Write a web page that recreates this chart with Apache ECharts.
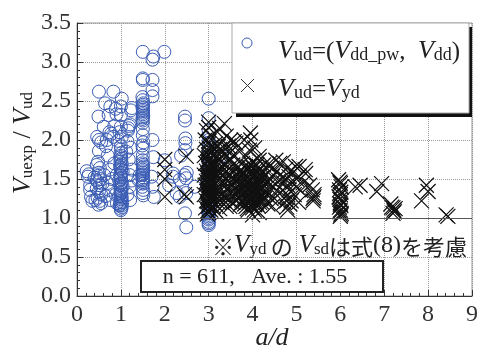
<!DOCTYPE html>
<html>
<head>
<meta charset="utf-8">
<script src="https://cdn.jsdelivr.net/npm/echarts@6/dist/echarts.min.js"></script>
<style>html,body{margin:0;padding:0;background:#fff}#c{width:481px;height:356px}</style>
</head>
<body>
<div id="c"></div>
<script>
// Tick values
var xTicks = [0,1,2,3,4,5,6,7,8,9];
var yTicks = [0.0,0.5,1.0,1.5,2.0,2.5,3.0,3.5];

// V_ud = (V_dd_pw, V_dd)  : blue circles  [a/d, Vuexp/Vud]
var circlesLow = [
 [0.22,1.60],[0.25,1.53],[0.27,1.56],[0.30,1.36],[0.32,1.27],[0.35,1.22],[0.30,1.42],
 [0.50,2.62],[0.49,2.30],[0.46,2.04],[0.50,2.00],[0.55,1.97],[0.50,1.86],[0.48,1.72],[0.45,1.68],
 [0.52,1.64],[0.50,1.58],[0.47,1.54],[0.53,1.50],[0.48,1.46],[0.52,1.42],[0.45,1.38],[0.50,1.34],
 [0.55,1.30],[0.47,1.26],[0.52,1.22],[0.42,1.23],[0.49,1.17],[0.55,1.19],[0.45,1.48],[0.58,1.44],[0.40,1.52],
 [0.64,2.47],[0.72,2.32],[0.76,2.43],[0.83,2.62],[0.61,2.17],[0.74,2.10],[0.68,2.00],[0.83,2.04],
 [0.93,1.99],[0.88,2.40],[0.90,2.33],[0.85,2.18],[0.70,1.80],[0.75,1.62],[0.70,1.45],[0.73,1.36],
 [0.76,1.23],[0.65,1.28],[0.80,1.50],[0.91,1.19],[0.88,1.30],[0.85,1.70],[0.90,1.55],[0.62,1.55],[0.66,1.92],[0.78,2.08]
];
var circlesOne = [
 [1.00,1.10],[1.02,1.14],[0.98,1.18],[1.00,1.22],[1.02,1.26],[0.99,1.30],[1.01,1.34],[1.00,1.38],
 [0.98,1.42],[1.02,1.46],[1.00,1.50],[0.99,1.54],[1.01,1.58],[1.00,1.62],[0.98,1.66],[1.02,1.70],
 [1.00,1.74],[0.99,1.78],[1.01,1.83],[1.00,1.88],[1.00,1.92],[1.02,2.04],[0.97,2.10],[1.00,2.17],
 [1.00,2.32],[1.00,2.43],[1.02,2.53],[0.96,1.48],[1.04,1.40],[0.96,1.28],[1.04,1.60],[0.97,1.16],[1.03,1.20],
 [1.00,1.12],[1.01,1.16],[0.99,1.20],[1.00,1.24],[1.01,1.28],[1.00,1.32],[0.99,1.36],[1.01,1.44],
 [1.00,1.52],[0.99,1.56],[1.01,1.64],[1.00,1.68],[0.99,1.72],[1.01,1.76],[1.00,1.80],
 [1.17,2.15],[1.19,2.18],[1.16,2.12],[1.21,2.20],[1.25,2.41],[1.23,2.38],[1.21,1.23],[1.20,1.40],
 [1.20,1.55],[1.22,1.90],[1.18,1.75],[1.15,1.98],[1.25,1.62],[1.15,1.30],[1.24,1.48],[1.12,1.85]
];
var circlesMid = [
 [1.50,3.13],[1.50,2.79],[1.50,2.77],[1.49,2.55],[1.50,2.51],[1.51,2.47],[1.49,2.43],[1.50,2.39],
 [1.50,2.35],[1.51,2.31],[1.49,2.27],[1.50,2.22],[1.50,2.14],[1.50,2.06],[1.51,1.97],[1.49,1.93],
 [1.50,1.89],[1.50,1.80],[1.50,1.74],[1.49,1.70],[1.51,1.66],[1.50,1.62],[1.50,1.58],[1.49,1.55],
 [1.51,1.52],[1.50,1.48],[1.50,1.44],[1.49,1.40],[1.51,1.36],[1.50,1.32],[1.40,1.49],[1.43,1.55],[1.51,1.29],
 [1.50,2.45],[1.50,2.41],[1.50,2.37],[1.50,2.33],[1.50,2.29],[1.50,2.25],[1.50,1.68],[1.50,1.64],
 [1.50,1.60],[1.50,1.56],[1.50,1.50],[1.50,1.46],
 [1.72,3.03],[1.74,3.07],[1.72,2.77],[1.72,2.64],[1.72,2.56],[1.72,2.00],[1.74,1.78],[1.70,1.53],
 [1.72,1.40],[1.75,1.27],[1.99,3.13],
 [2.00,1.74],[2.19,1.57],[2.19,1.53],[2.34,1.49],[2.27,1.32],[2.34,1.27],[2.37,1.80],[2.46,2.30],
 [2.46,2.25],[2.47,2.02],[2.47,1.96],[2.46,1.87],[2.49,1.51],[2.45,1.55],[2.49,1.32],[2.46,1.06],
 [2.49,0.88],[2.68,1.40],[2.10,1.42],[2.50,1.58]
];
var circlesThree = [
 [3.00,2.53],[3.00,2.28],[3.00,2.12],[3.00,2.00],[3.00,1.96],[3.00,1.90],[3.00,1.85],[3.00,1.80],
 [3.00,1.75],[3.00,1.70],[3.00,1.65],[3.00,1.60],[3.00,1.55],[3.00,1.50],[3.00,1.45],[3.00,1.40],
 [3.00,1.35],[3.00,1.30],[3.00,1.25],[3.00,1.20],[3.00,1.15],[3.00,1.10],[3.00,1.06],[3.00,1.02],
 [3.00,0.98],[3.00,0.95],[3.00,0.91],[2.98,1.62],[3.02,1.38],[3.30,1.80],
 [3.00,1.08],[3.00,1.04],[3.00,1.00],[3.00,0.93],[3.00,1.12],[3.00,1.18]
];

// V_ud = V_yd : black crosses
var crossesA = [
 [2.00,1.75],[2.00,1.62],[2.00,1.50],[2.00,1.27],[2.49,1.79],[2.49,1.27],[2.45,1.30],
 [3.00,2.23],[2.95,2.12],[3.05,2.05],[2.92,2.00],[3.00,1.95],[3.08,1.92],[2.95,1.88],[3.02,1.84],
 [2.90,1.80],[3.05,1.78],[3.00,1.74],[2.93,1.70],[3.07,1.68],[3.00,1.64],[2.95,1.60],[3.04,1.58],
 [2.90,1.55],[3.00,1.52],[3.06,1.50],[2.95,1.47],[3.02,1.44],[2.92,1.42],[3.08,1.40],[3.00,1.37],
 [2.96,1.34],[3.04,1.32],[2.90,1.30],[3.00,1.27],[3.06,1.24],[2.95,1.22],[3.02,1.19],[3.00,1.16],
 [2.93,1.13],[3.05,1.10],[3.00,1.07],[2.97,1.05],[3.00,2.16],
 [2.98,1.09],[3.02,1.12],[2.99,1.15],[3.01,1.18],[2.98,1.21],[3.02,1.24],[3.00,1.29],[2.98,1.31],
 [3.02,1.35],[2.99,1.39],[3.01,1.42],[2.98,1.45],[3.02,1.49],[3.00,1.54],[2.98,1.57],[3.02,1.61],
 [2.99,1.66],[3.01,1.69],[2.98,1.72],[3.02,1.76],[3.00,1.81],[2.98,1.86],[3.02,1.89],[3.00,1.98],
 [3.03,1.47],[2.97,1.36],[3.03,1.26],[2.97,1.52]
];
var crossesB = [
 [3.36,2.21],[3.20,2.10],[3.40,2.05],[3.28,1.98],[3.15,1.95],[3.45,1.92],[3.25,1.88],[3.15,1.82],
 [3.35,1.80],[3.50,1.85],[3.22,1.75],[3.42,1.72],[3.15,1.70],[3.30,1.66],[3.55,1.68],[3.20,1.62],
 [3.40,1.60],[3.15,1.56],[3.30,1.54],[3.50,1.55],[3.25,1.50],[3.45,1.48],[3.15,1.45],[3.35,1.43],
 [3.55,1.42],[3.20,1.40],[3.40,1.37],[3.25,1.34],[3.15,1.32],[3.50,1.32],[3.35,1.28],[3.20,1.26],
 [3.45,1.24],[3.30,1.20],[3.15,1.18],[3.40,1.15],[3.25,1.12],[3.55,1.20],[3.10,1.60],[3.12,1.25],
 [3.35,1.90],[3.58,1.98],
 [3.12,1.50],[3.18,1.35],[3.22,1.55],[3.28,1.44],[3.32,1.60],[3.38,1.50],[3.42,1.30],[3.48,1.40],
 [3.52,1.62],[3.58,1.50],[3.18,1.78],[3.28,1.72],[3.38,1.68],[3.48,1.75],[3.12,1.88],[3.22,1.92],
 [3.32,1.85],[3.42,1.80],[3.55,1.80],[3.10,1.15],[3.22,1.20],[3.35,1.22],[3.48,1.15],[3.18,1.08],
 [3.30,1.30],[3.45,1.55],[3.25,1.60],[3.12,1.70],[3.50,2.00],[3.25,2.15]
];
var crossesC = [
 [3.62,1.96],[3.81,2.00],[3.96,2.00],[3.95,2.09],[3.93,1.87],[3.70,1.85],[3.85,1.80],[4.15,1.79],
 [4.05,1.90],[3.77,1.70],[4.15,1.74],[4.08,1.62],[3.65,1.65],[3.90,1.66],[4.00,1.72],[4.25,1.68],
 [3.70,1.60],[3.80,1.58],[3.95,1.60],[4.05,1.56],[4.20,1.58],[3.75,1.55],[3.88,1.53],[4.00,1.52],
 [4.12,1.50],[4.25,1.52],[3.68,1.50],[3.82,1.48],[3.95,1.47],[4.08,1.45],[4.18,1.46],[3.72,1.44],
 [3.86,1.42],[4.00,1.41],[4.12,1.40],[4.25,1.42],[3.65,1.40],[3.78,1.38],[3.92,1.37],[4.05,1.36],
 [4.18,1.35],[3.70,1.34],[3.84,1.33],[3.98,1.32],[4.10,1.31],[4.22,1.30],[3.75,1.29],[3.88,1.28],
 [4.02,1.27],[4.15,1.26],[3.68,1.25],[3.82,1.24],[3.95,1.23],[4.08,1.22],[4.20,1.21],[3.78,1.20],
 [3.92,1.19],[4.05,1.17],[3.85,1.15],[4.00,1.13],[4.12,1.16],[3.72,1.18],[4.00,1.04],[4.15,1.07],
 [3.90,1.10],[3.60,1.30],[3.62,1.22],[3.60,1.48],
 [3.74,1.62],[3.87,1.62],[4.02,1.64],[4.15,1.62],[3.79,1.52],[3.93,1.50],[4.06,1.50],[4.18,1.50],
 [3.76,1.46],[3.90,1.44],[4.03,1.44],[4.16,1.43],[3.80,1.41],[3.94,1.40],[4.07,1.39],[4.21,1.38],
 [3.74,1.37],[3.88,1.35],[4.01,1.35],[4.14,1.33],[3.78,1.31],[3.92,1.30],[4.05,1.29],[4.19,1.27],
 [3.72,1.27],[3.86,1.26],[3.99,1.25],[4.12,1.24],[3.76,1.23],[3.90,1.22],[4.03,1.21],[4.16,1.20],
 [3.82,1.18],[3.96,1.16],[4.09,1.19],[3.88,1.12],[4.04,1.10],[3.80,1.56],[3.98,1.56],[4.10,1.58],
 [3.84,1.66],[3.97,1.68],[4.10,1.68],[4.28,1.36],[4.28,1.25],[3.66,1.56],[3.64,1.34],[4.30,1.46]
];
var crossesD = [
 [4.38,1.70],[4.45,1.64],[4.38,1.66],[4.53,1.74],[4.45,1.53],[4.30,1.55],[4.35,1.45],[4.40,1.38],
 [4.32,1.30],[4.42,1.25],[4.35,1.18],[4.75,1.62],[4.83,1.53],[4.83,1.36],[4.75,1.27],[4.78,1.14],
 [4.80,1.10],[4.70,1.45],[4.90,1.45],[4.88,1.22],[4.72,1.20],[4.98,1.66],[5.06,1.66],[5.06,1.53],
 [5.20,1.62],[5.21,1.57],[5.00,1.40],[5.10,1.35],[5.36,1.36],[5.40,1.30],[5.40,1.27],[5.38,1.22],
 [4.60,1.48],[4.55,1.35],[4.95,1.30],[5.05,1.20],
 [4.40,1.50],[4.48,1.40],[4.55,1.60],[4.62,1.55],[4.68,1.35],[4.75,1.50],[4.80,1.42],[4.85,1.60],
 [4.92,1.58],[5.00,1.50],[4.80,1.30],[4.85,1.18],[4.78,1.22],[4.50,1.25],[4.45,1.15],[5.15,1.45],
 [5.30,1.42],[5.38,1.25],[4.62,1.70],[4.70,1.72]
];
var crossesE = [
 [5.96,1.49],[6.00,1.44],[6.02,1.40],[5.98,1.36],[6.00,1.30],[5.97,1.27],[6.02,1.22],[6.00,1.18],
 [5.98,1.14],[6.00,1.10],[6.02,1.06],[6.00,1.02],[6.34,1.40],
 [5.99,1.46],[6.01,1.33],[5.99,1.24],[6.01,1.16],[5.99,1.08],[6.01,1.04],
 [6.45,1.42],[6.94,1.44],[6.83,1.34],[7.17,1.14],[7.22,1.10],[7.20,1.06],[7.25,1.12],[7.15,1.18],
 [7.20,1.13],[7.23,1.08],
 [7.96,1.42],[8.00,1.34],[7.85,1.22],[8.41,1.04],[8.45,1.02]
];

var circles = circlesLow.concat(circlesOne, circlesMid, circlesThree);
var crosses = crossesA.concat(crossesB, crossesC, crossesD, crossesE);

var SERIF = '"Liberation Serif","DejaVu Serif",serif';
var CJK = '"Noto Sans CJK JP","Noto Sans CJK SC",sans-serif';
var BLUE = '#3a5cb4';
var INK = '#222';

var chart = echarts.init(document.getElementById('c'));
var lblStyle = {fontFamily: SERIF, fontSize: 24, color: '#333'};
chart.setOption({
  animation: false,
  backgroundColor: '#fff',
  grid: {left: 77, right: 7, top: 23, bottom: 60, show: true, borderColor: '#999', borderWidth: 1},
  xAxis: {
    type: 'value', min: xTicks[0], max: xTicks[xTicks.length-1], interval: 1,
    axisLine: {show: true, lineStyle: {color: '#333', width: 1}},
    axisTick: {show: true, inside: true, length: 6, lineStyle: {color: '#333'}},
    minorTick: {show: true, splitNumber: 5, length: 3, lineStyle: {color: '#333'}},
    splitLine: {show: true, lineStyle: {type: 'dotted', color: '#999'}},
    axisLabel: Object.assign({margin: 7}, lblStyle)
  },
  yAxis: {
    type: 'value', min: yTicks[0], max: yTicks[yTicks.length-1], interval: 0.5,
    axisLine: {show: true, lineStyle: {color: '#333', width: 1}},
    axisTick: {show: true, inside: true, length: 6, lineStyle: {color: '#333'}},
    minorTick: {show: true, splitNumber: 5, length: 3, lineStyle: {color: '#333'}},
    splitLine: {show: true, lineStyle: {type: 'dotted', color: '#999'}},
    axisLabel: Object.assign({margin: 6, formatter: function (v) { return v.toFixed(1); }}, lblStyle)
  },
  series: [
    {
      type: 'scatter', data: circles, symbol: 'circle', symbolSize: 13,
      itemStyle: {color: 'rgba(0,0,0,0)', borderColor: BLUE, borderWidth: 1, opacity: 1},
      emphasis: {disabled: true},
      markLine: {
        silent: true, symbol: 'none', label: {show: false},
        lineStyle: {color: '#555', width: 1, type: 'solid'},
        data: [{yAxis: 1.0}]
      }
    },
    {
      type: 'scatter', data: crosses, symbol: 'path://M0,0L10,10M10,0L0,10', symbolSize: 15,
      itemStyle: {color: 'rgba(0,0,0,0)', borderColor: '#111', borderWidth: 1.2, opacity: 1},
      emphasis: {disabled: true}
    }
  ],
  graphic: [
    // legend shadow + box
    {type: 'rect', z: 100, shape: {x: 236, y: 27, width: 236, height: 90}, style: {fill: '#111'}},
    {type: 'rect', z: 101, shape: {x: 232, y: 23, width: 237, height: 90}, style: {fill: '#fff', stroke: '#aaa', lineWidth: 1}},
    {type: 'circle', z: 102, shape: {cx: 247, cy: 43, r: 5}, style: {fill: 'none', stroke: BLUE, lineWidth: 1}},
    {type: 'line', z: 102, shape: {x1: 241, y1: 79, x2: 254, y2: 92}, style: {stroke: '#333', lineWidth: 1}},
    {type: 'line', z: 102, shape: {x1: 241, y1: 92, x2: 254, y2: 79}, style: {stroke: '#333', lineWidth: 1}},
    {type: 'text', z: 103, x: 278, y: 49.5, style: {
      text: '{v|V}{s|ud}{n|=(}{v|V}{s|dd_pw}{n|,  }{v|V}{s|dd}{n|)}',
      verticalAlign: 'middle', align: 'left', fill: INK,
      rich: {
        v: {fontFamily: SERIF, fontStyle: 'italic', fontSize: 26, lineHeight: 30, verticalAlign: 'bottom', fill: INK},
        n: {fontFamily: SERIF, fontSize: 25, lineHeight: 30, verticalAlign: 'bottom', fill: INK},
        s: {fontFamily: SERIF, fontSize: 18, lineHeight: 16, verticalAlign: 'bottom', fill: INK}
      }}},
    {type: 'text', z: 103, x: 278, y: 87.5, style: {
      text: '{v|V}{s|ud}{n|=}{v|V}{s|yd}',
      verticalAlign: 'middle', align: 'left', fill: INK,
      rich: {
        v: {fontFamily: SERIF, fontStyle: 'italic', fontSize: 26, lineHeight: 30, verticalAlign: 'bottom', fill: INK},
        n: {fontFamily: SERIF, fontSize: 25, lineHeight: 30, verticalAlign: 'bottom', fill: INK},
        s: {fontFamily: SERIF, fontSize: 18, lineHeight: 16, verticalAlign: 'bottom', fill: INK}
      }}},
    // note
    {type: 'text', z: 103, x: 467, y: 244, style: {
      text: '{j|※}{v|V}{s|yd }{j|の}{n| }{v|V}{s|sd}{j|は式}{n|(8)}{j|を考慮}',
      verticalAlign: 'middle', align: 'right', fill: INK,
      rich: {
        j: {fontFamily: CJK, fontSize: 22, lineHeight: 28, verticalAlign: 'bottom', fill: INK},
        v: {fontFamily: SERIF, fontStyle: 'italic', fontSize: 25, lineHeight: 28, verticalAlign: 'bottom', fill: INK},
        n: {fontFamily: SERIF, fontSize: 24, lineHeight: 28, verticalAlign: 'bottom', fill: INK},
        s: {fontFamily: SERIF, fontSize: 17, lineHeight: 15, verticalAlign: 'bottom', fill: INK}
      }}},
    // n box
    {type: 'rect', z: 100, shape: {x: 141, y: 261, width: 242, height: 31}, style: {fill: '#fff', stroke: INK, lineWidth: 2}},
    {type: 'text', z: 103, x: 255, y: 277, style: {
      text: 'n = 611,   Ave. : 1.55', font: '22px ' + SERIF, fill: INK, align: 'center', verticalAlign: 'middle'}},
    // axis names
    {type: 'text', z: 103, x: 272, y: 338, style: {
      text: 'a/d', font: 'italic 26px ' + SERIF, fill: INK, align: 'center', verticalAlign: 'middle'}},
    {type: 'text', z: 103, x: 20, y: 143, rotation: Math.PI / 2, style: {
      text: '{v|V}{s|uexp}{n| / }{v|V}{s|ud}',
      align: 'center', verticalAlign: 'middle', fill: INK,
      rich: {
        v: {fontFamily: SERIF, fontStyle: 'italic', fontSize: 26, lineHeight: 32, verticalAlign: 'bottom', fill: INK},
        n: {fontFamily: SERIF, fontSize: 26, lineHeight: 32, verticalAlign: 'bottom', fill: INK},
        s: {fontFamily: SERIF, fontSize: 17, lineHeight: 16, verticalAlign: 'bottom', fill: INK}
      }}}
  ]
});
</script>
</body>
</html>
